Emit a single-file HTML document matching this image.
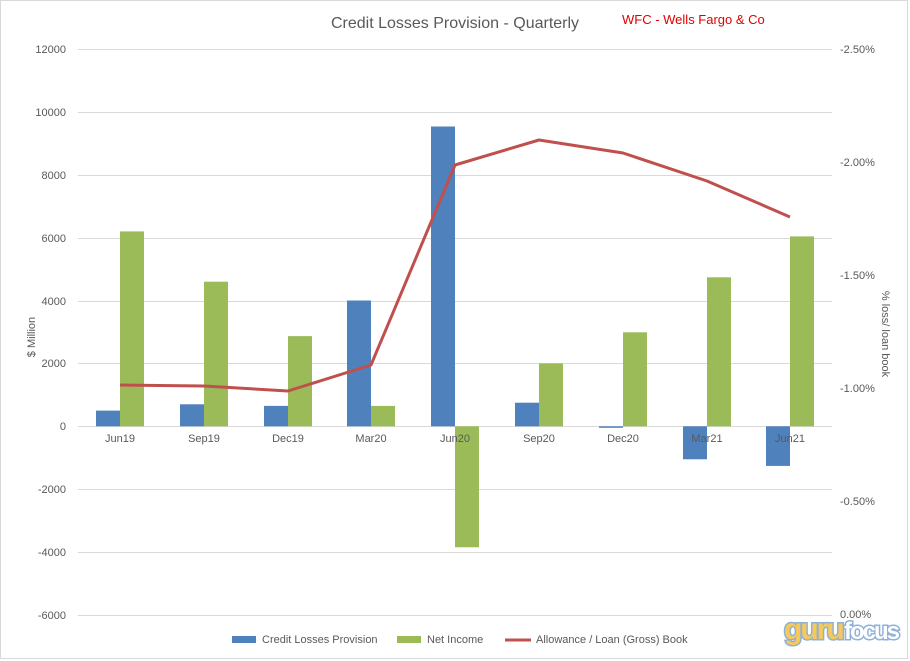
<!DOCTYPE html>
<html><head><meta charset="utf-8"><style>
body{margin:0;background:#fff}
svg{display:block;font-family:"Liberation Sans",sans-serif}
</style></head><body>
<svg width="910" height="661" viewBox="0 0 910 661">
<rect x="0.5" y="0.5" width="907" height="658" fill="#fff" stroke="#d9d9d9"/>
<g stroke="#d9d9d9" stroke-width="1">
<line x1="78" x2="832" y1="49.5" y2="49.5"/>
<line x1="78" x2="832" y1="112.5" y2="112.5"/>
<line x1="78" x2="832" y1="175.5" y2="175.5"/>
<line x1="78" x2="832" y1="238.5" y2="238.5"/>
<line x1="78" x2="832" y1="301.5" y2="301.5"/>
<line x1="78" x2="832" y1="363.5" y2="363.5"/>
<line x1="78" x2="832" y1="426.5" y2="426.5"/>
<line x1="78" x2="832" y1="489.5" y2="489.5"/>
<line x1="78" x2="832" y1="552.5" y2="552.5"/>
<line x1="78" x2="832" y1="615.5" y2="615.5"/>
</g>
<g font-size="11" fill="#595959" text-anchor="end">
<text x="66" y="53">12000</text><text x="66" y="116">10000</text><text x="66" y="179">8000</text>
<text x="66" y="242">6000</text><text x="66" y="305">4000</text><text x="66" y="367">2000</text>
<text x="66" y="430">0</text><text x="66" y="493">-2000</text><text x="66" y="556">-4000</text><text x="66" y="619">-6000</text>
</g>
<g font-size="11" fill="#595959">
<text x="840" y="53">-2.50%</text><text x="840" y="166">-2.00%</text><text x="840" y="279">-1.50%</text>
<text x="840" y="392">-1.00%</text><text x="840" y="505">-0.50%</text><text x="840" y="618">0.00%</text>
</g>
<text x="35" y="337" font-size="11" fill="#595959" transform="rotate(-90 35 337)" text-anchor="middle">$ Million</text>
<text x="882" y="334" font-size="11" fill="#595959" transform="rotate(90 882 334)" text-anchor="middle">% loss/ loan book</text>
<text x="455" y="28" font-size="16" fill="#595959" text-anchor="middle">Credit Losses Provision - Quarterly</text>
<text x="622" y="24" font-size="13" fill="#e00000">WFC - Wells Fargo &amp; Co</text>
<g fill="#4f81bd">
<rect x="96" y="410.6" width="24" height="15.7"/>
<rect x="180" y="404.3" width="24" height="22"/>
<rect x="264" y="405.9" width="24" height="20.4"/>
<rect x="347" y="300.5" width="24" height="125.8"/>
<rect x="431" y="126.5" width="24" height="299.8"/>
<rect x="515" y="402.7" width="24" height="23.6"/>
<rect x="599" y="426.3" width="24" height="1.5"/>
<rect x="683" y="426.3" width="24" height="33"/>
<rect x="766" y="426.3" width="24" height="39.6"/>
</g>
<g fill="#9bbb59">
<rect x="120" y="231.4" width="24" height="194.9"/>
<rect x="204" y="281.7" width="24" height="144.6"/>
<rect x="288" y="336.1" width="24" height="90.2"/>
<rect x="371" y="405.9" width="24" height="20.4"/>
<rect x="455" y="426.3" width="24" height="121"/>
<rect x="539" y="363.4" width="24" height="62.9"/>
<rect x="623" y="332.3" width="24" height="94"/>
<rect x="707" y="277.3" width="24" height="149"/>
<rect x="790" y="236.4" width="24" height="189.9"/>
</g>
<g font-size="11" fill="#595959" text-anchor="middle">
<text x="120" y="442">Jun19</text><text x="204" y="442">Sep19</text><text x="288" y="442">Dec19</text>
<text x="371" y="442">Mar20</text><text x="455" y="442">Jun20</text><text x="539" y="442">Sep20</text>
<text x="623" y="442">Dec20</text><text x="707" y="442">Mar21</text><text x="790" y="442">Jun21</text>
</g>
<polyline fill="none" stroke="#c0504d" stroke-width="3" stroke-linejoin="round" points="120,385 204,386 288,391 371,365 455,165 539,140 623,153 707,181 790,217"/>
<g font-size="11" fill="#595959">
<rect x="232" y="636" width="24" height="7" fill="#4f81bd"/>
<text x="262" y="643">Credit Losses Provision</text>
<rect x="397" y="636" width="24" height="7" fill="#9bbb59"/>
<text x="427" y="643">Net Income</text>
<line x1="505" x2="531" y1="640" y2="640" stroke="#c0504d" stroke-width="3"/>
<text x="536" y="643">Allowance / Loan (Gross) Book</text>
</g>
<g font-size="30" font-weight="bold" stroke="#8fb1d9" stroke-width="3" paint-order="stroke">
<text x="784" y="639" fill="#f5c95a" letter-spacing="-2">guru</text>
<text x="844" y="639" fill="#ffffff" letter-spacing="-2" font-size="24">focus</text>
</g>
</svg>
</body></html>
